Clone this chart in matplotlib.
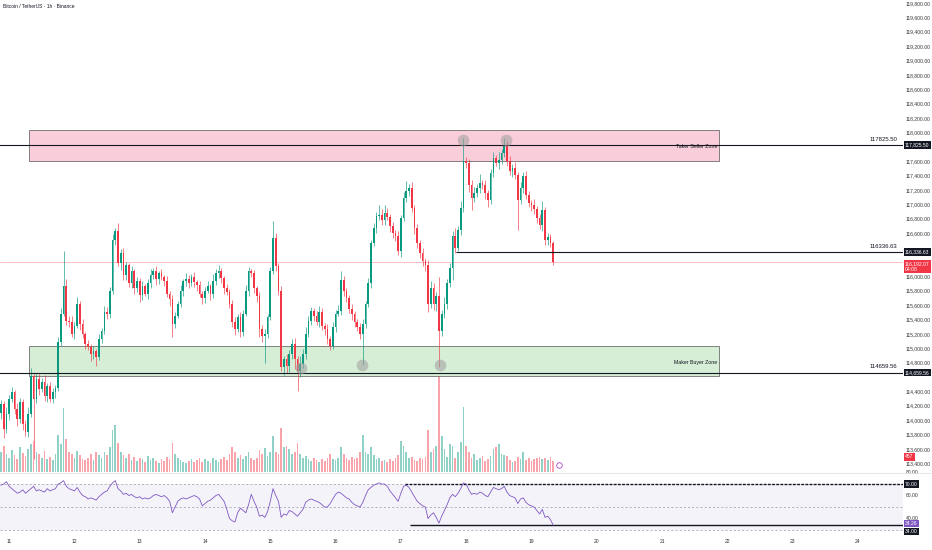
import numpy as np
import matplotlib
matplotlib.use("Agg")
import matplotlib.pyplot as plt
from matplotlib.patches import Rectangle
from matplotlib.lines import Line2D
from matplotlib.transforms import blended_transform_factory

plt.rcParams['font.family'] = ['Liberation Sans', 'DejaVu Sans']

# --- données (BTCUSDT 1h, du 10/07 21h au 19/07 08h) ---
closes = [
    114226, 113877, 114086, 114296, 114393, 114156, 114017, 114254, 113947, 113835, 114086, 114617,
    114296, 114575, 114435, 114533, 114338, 114477, 114296, 114393, 114449, 115091, 115481, 115858,
    115384, 115370, 115202, 115314, 115621, 115342, 115202, 115063, 115021, 114923, 114965, 114882,
    115133, 115244, 115509, 115481, 115802, 116500, 116625, 116179, 116318, 116012, 116151, 115900,
    116067, 115830, 115928, 115733, 115858, 115760, 115900, 116012, 116067, 115956, 116040, 115984,
    115928, 115760, 115677, 115342, 115454, 115621, 115802, 115928, 115956, 115900, 115984, 115914,
    115872, 115760, 115691, 115802, 115858, 115760, 115928, 116040, 116067, 115970, 115830, 115788,
    115621, 115370, 115272, 115440, 115230, 115481, 115802, 116067, 116040, 115830, 115719, 115272,
    115175, 115202, 115440, 116067, 116528, 116137, 115802, 114742, 114854, 114756, 114923, 115063,
    114854, 114686, 114784, 114923, 115202, 115384, 115523, 115454, 115370, 115509, 115314, 115272,
    115133, 115035, 115300, 115481, 115523, 115942, 115802, 115691, 115551, 115481, 115370, 115300,
    115202, 115342, 115621, 115900, 116458, 116667, 116835, 116849, 116779, 116876, 116821, 116695,
    116597, 116556, 116346, 116807, 117086, 117183, 117225, 116946, 116667, 116458, 116318, 116207,
    116151, 115621, 115830, 115621, 115719, 115244, 115481, 115621, 115900, 116109, 116556, 116388,
    116639, 116946, 117602, 117574, 117267, 117086, 117155, 117225, 117295, 117267, 117155, 117058,
    117434, 117644, 117574, 117616, 117713, 117825, 117602, 117462, 117504, 117407, 117058, 117225,
    117393, 117128, 117016, 116988, 116932, 116807, 116709, 116918, 116500, 116542, 116458, 116192,
]
first_open = 114100

wick_up = [
    60, 40, 90, 50, 70, 30, 80, 60, 40, 50, 90, 110,
    30, 70, 60, 50, 90, 40, 60, 50, 40, 60, 80, 490,
    100, 60, 80, 50, 90, 40, 60, 30, 50, 40, 70, 30,
    60, 40, 80, 60, 50, 90, 40, 120, 60, 80, 50, 40,
    70, 30, 60, 50, 80, 40, 60, 90, 50, 70, 40, 60,
    30, 80, 40, 60, 50, 30, 70, 40, 90, 60, 50, 80,
    40, 60, 30, 50, 70, 40, 110, 60, 90, 50, 40, 60,
    30, 50, 70, 40, 60, 50, 80, 60, 40, 50, 30, 60,
    50, 70, 40, 60, 240, 80, 50, 60, 40, 70, 50, 60,
    80, 40, 110, 60, 90, 70, 50, 40, 60, 80, 50, 40,
    60, 30, 70, 50, 80, 130, 60, 40, 50, 70, 40, 30,
    50, 60, 40, 70, 50, 80, 60, 140, 90, 120, 70, 50,
    60, 40, 70, 50, 80, 140, 60, 90, 40, 60, 50, 70,
    50, 80, 110, 70, 60, 270, 50, 90, 60, 80, 70, 120,
    60, 100, 320, 60, 50, 70, 90, 60, 120, 40, 70, 50,
    60, 80, 40, 110, 60, 100, 50, 70, 60, 80, 40, 90,
    50, 70, 60, 40, 80, 50, 60, 130, 40, 60, 50, 30,
]
wick_dn = [
    80, 120, 60, 90, 40, 70, 100, 50, 80, 60, 70, 40,
    840, 60, 80, 50, 70, 90, 40, 60, 80, 50, 60, 40,
    60, 80, 50, 70, 40, 90, 60, 80, 50, 100, 70, 130,
    50, 60, 40, 80, 60, 50, 70, 40, 90, 60, 70, 50,
    60, 80, 50, 90, 60, 40, 70, 60, 50, 80, 60, 40,
    70, 50, 90, 180, 60, 40, 50, 80, 60, 70, 40, 60,
    80, 50, 70, 60, 40, 90, 60, 50, 70, 60, 80, 50,
    60, 70, 90, 50, 80, 60, 40, 70, 50, 60, 80, 110,
    90, 380, 60, 50, 40, 70, 60, 60, 110, 100, 80, 70,
    150, 280, 90, 60, 70, 50, 60, 80, 50, 70, 60, 90,
    70, 60, 50, 80, 40, 60, 70, 50, 60, 90, 70, 60,
    80, 440, 60, 50, 70, 40, 60, 50, 70, 60, 40, 80,
    60, 70, 50, 80, 40, 60, 70, 50, 80, 60, 70, 60,
    80, 120, 60, 90, 110, 500, 70, 60, 80, 50, 160, 60,
    40, 60, 50, 70, 90, 160, 60, 50, 70, 60, 80, 90,
    50, 60, 40, 80, 60, 50, 70, 60, 80, 50, 420, 60,
    70, 50, 60, 80, 60, 70, 50, 80, 60, 70, 50, 40,
]
volumes = [
    420, 560, 380, 300, 460, 350, 280, 520, 400, 330, 480, 600,
    650, 420, 380, 300, 450, 280, 320, 260, 380, 780, 600, 1350,
    700, 420, 380, 300, 450, 350, 280, 260, 300, 380, 250, 420,
    360, 300, 420, 350, 520, 900, 1000, 620, 420, 350, 300, 380,
    260, 320, 240, 300, 280, 220, 340, 260, 300, 240, 200, 280,
    240, 320, 280, 620, 380, 300, 260, 220, 200, 240, 280, 220,
    260, 300, 220, 280, 240, 200, 300, 260, 220, 280, 320, 260,
    380, 520, 420, 300, 360, 280, 340, 420, 300, 260, 300, 460,
    380, 500, 340, 420, 760, 420, 380, 930, 520, 560, 480, 380,
    420, 620, 380, 300, 340, 280, 240, 300, 260, 220, 280, 240,
    300, 380, 280, 260, 300, 540, 380, 300, 260, 320, 280, 300,
    420, 780, 420, 380, 520, 360, 280, 300, 240, 260, 220, 280,
    240, 300, 360, 660, 560, 420, 300, 320, 260, 240, 300, 280,
    320, 890, 420, 480, 560, 2520, 760, 480, 320, 600, 560, 300,
    420, 640, 1380, 560, 420, 300, 380, 260, 300, 340, 240, 280,
    340, 480, 520, 600, 380, 360, 340, 260, 220, 240, 320, 280,
    420, 260, 300, 240, 280, 300, 320, 280, 300, 260, 320, 240,
]
rsi = [
    69, 70, 72, 68, 66, 64, 62, 63, 65, 62, 64, 66,
    68, 64, 65, 64, 63, 66, 64, 65, 66, 70, 71, 73,
    68, 66, 65, 64, 67, 63, 60, 59, 57, 58, 57, 56,
    59, 61, 63, 64, 68, 71, 73, 66, 64, 61, 62, 60,
    61, 59, 58, 59, 57, 58, 57, 58, 60, 61, 60, 59,
    60, 58, 55, 45, 50, 55, 57, 58, 57, 58, 59, 60,
    59, 57, 51, 53, 55, 56, 58, 60, 61, 58, 55, 48,
    40, 38, 37, 45, 49, 47, 45, 52, 61, 55, 50, 42,
    43, 41, 46, 55, 66, 60, 55, 41, 44, 43, 47, 46,
    44, 42, 45, 48, 54, 56, 57, 56, 55, 54, 52, 50,
    50, 53, 57, 61, 63, 62, 60, 58, 57, 54, 52, 51,
    50, 54, 60, 65, 67, 69, 70, 71, 70, 70, 68, 64,
    61, 58, 55, 62, 68, 69, 67, 63, 59, 55, 53, 51,
    50, 40, 43, 45, 41, 36, 42, 47, 52, 58, 61, 59,
    62, 66, 71, 70, 65, 61, 62, 61, 63, 62, 60, 59,
    63, 67, 66, 65, 66, 68, 63, 60, 59, 58, 53, 57,
    58, 54, 52, 51, 50, 47, 44, 48, 41, 42, 39, 34.26,
]
day_labels = ['11', '12', '13', '14', '15', '16', '17', '18', '19', '20', '21', '22', '23', '24']
# graduations visibles (celles cachées par les étiquettes de niveau sont retirées)
price_ticks = [p for p in range(113400, 119801, 200) if p not in (117800, 116400, 116200, 114600)]

seller_zone = (118032, 117601)
buyer_zone = (115029, 114612)
lvl_top = 117825.50
lvl_mid = 116336.63
lvl_bot = 114659.56
last_price = 116192.07
rsi_last = 34.26
rsi_line = 34.00

# --- mise en page en pixels ---
W, H = 932, 550
UP, DOWN = '#089981', '#f23645'
TXT = '#131722'


def rect(x0, y0, x1, y1):
    """Boîte en pixels (origine en haut à gauche) -> coordonnées figure."""
    return [x0 / W, 1 - y1 / H, (x1 - x0) / W, (y1 - y0) / H]


fig = plt.figure(figsize=(W / 100, H / 100), dpi=100)
ax = fig.add_axes(rect(0, 0, 903, 472))
ax_rsi = fig.add_axes(rect(0, 473, 903, 536))
ax_vol = ax.twinx()
ax_vol.set_zorder(0)
ax.set_zorder(1)
ax.patch.set_visible(False)

n = len(closes)
x = np.arange(n)
c = np.array(closes, float)
o = np.r_[first_open, c[:-1]]
is_up = c >= o
cols = np.where(is_up, UP, DOWN)
top = np.maximum(o, c)
bot = np.minimum(o, c)
xlim = (-0.37, 331.6)

# volume
ax_vol.bar(x, volumes, width=0.62, color=cols, alpha=0.45, lw=0)
ax_vol.set_ylim(0, 10000)
ax_vol.set_xlim(*xlim)
ax_vol.axis('off')

# zones
for (hi, lo), fc, name in [(seller_zone, '#f9cdd9', 'Taker Seller Zone'),
                           (buyer_zone, '#d6edd6', 'Maker Buyer Zone')]:
    ax.add_patch(Rectangle((10.3, lo), 264 - 10.3, hi - lo, fc=fc, ec='#6e6e6e', lw=0.6, zorder=0.5))
    ax.text(263.4, (hi + lo) / 2 - 15, name, ha='right', va='center', fontsize=3.8, color=TXT, zorder=7)

# bougies
ax.vlines(x, bot - np.array(wick_dn), top + np.array(wick_up), colors=cols, lw=0.45, zorder=3)
ax.bar(x, np.maximum(top - bot, 12), bottom=bot, width=0.62, color=cols, lw=0, zorder=4)

# niveaux
ax.axhline(lvl_top, color=TXT, lw=0.8, zorder=5)
ax.axhline(lvl_bot, color=TXT, lw=0.8, zorder=5)
ax.hlines(lvl_mid, 167.3, xlim[1], colors=TXT, lw=0.8, zorder=5)
ax.axhline(last_price, color=DOWN, lw=0.5, alpha=0.45, zorder=2)

tr_axes = blended_transform_factory(ax.transAxes, ax.transData)
for lvl in (lvl_top, lvl_mid, lvl_bot):
    ax.text(0.9934, lvl + 45, f'{lvl:.2f}', transform=tr_axes, ha='right', va='bottom',
            fontsize=4.3, color=TXT, zorder=7)

# points gris
ax.plot([169.9, 185.7, 132.7, 161.4, 110.3], [117893, 117893, 114765, 114765, 114724], 'o',
        ms=8.4, color='#9e9e9e', alpha=0.55, mew=0, zorder=6)

ax.set_xlim(*xlim)
ax.set_ylim(119840 - 472 * 13.9, 119840)
ax.set_xticks([])
ax.yaxis.tick_right()
ax.set_yticks(price_ticks)
ax.set_yticklabels([f'{p:,.2f}' for p in price_ticks])
ax.tick_params(axis='y', length=0, pad=2.2, labelsize=3.6, colors='#333333')
for s in ax.spines.values():
    s.set_visible(False)

# étiquettes de l'échelle de prix
tr_fig = blended_transform_factory(fig.transFigure, ax.transData)
box_kw = dict(transform=tr_fig, ha='left', va='center', fontsize=3.6, color='white',
              clip_on=False, zorder=10)
for lvl in (lvl_top, lvl_mid, lvl_bot):
    ax.text(905 / W, lvl, f'{lvl:,.2f}', bbox=dict(boxstyle='square,pad=0.25', fc=TXT, ec='none'), **box_kw)
ax.text(905 / W, last_price - 60, f'{last_price:,.2f}\n04:08', linespacing=1.15,
        bbox=dict(boxstyle='square,pad=0.25', fc=DOWN, ec='none'), **box_kw)
fig.text(905 / W, 1 - 457 / H, '457', ha='left', va='center', fontsize=3.6, color='white',
         bbox=dict(boxstyle='square,pad=0.25', fc=DOWN, ec='none'), zorder=10)

# petite icône au bout du volume
ax_vol.plot([205], [150], 'o', ms=4, mfc='white', mec='#ab47bc', mew=0.6, clip_on=False)

# RSI
ax_rsi.axhspan(30, 70, color='#7e57c2', alpha=0.07, lw=0)
for lv in (70, 50, 30):
    ax_rsi.axhline(lv, color='#9598a1', lw=0.5, ls=(0, (3, 3)))
ax_rsi.hlines(70, 148.5, xlim[1], colors=TXT, lw=1.0, linestyles=(0, (2, 1)))
ax_rsi.hlines(rsi_line, 150.4, xlim[1], colors=TXT, lw=1.0)
ax_rsi.plot(x, rsi, color='#7e57c2', lw=0.6)
ax_rsi.set_xlim(*xlim)
ax_rsi.set_ylim(24.8, 79.6)
ax_rsi.set_yticks([])
ax_rsi.set_xticks([3 + 24 * k for k in range(len(day_labels))])
ax_rsi.set_xticklabels(day_labels)
ax_rsi.tick_params(axis='x', length=0, pad=2.2, labelsize=3.6, colors='#333333')
for s in ax_rsi.spines.values():
    s.set_visible(False)

tr_rsi = blended_transform_factory(fig.transFigure, ax_rsi.transData)
for lv, lab in [(80, '80.00'), (60, '60.00'), (40, '40.00')]:
    ax_rsi.text(906 / W, lv, lab, transform=tr_rsi, ha='left', va='center', fontsize=3.6,
                color='#333333', clip_on=False)
rsi_box = dict(transform=tr_rsi, ha='left', va='center', fontsize=3.6, color='white', clip_on=False, zorder=10)
ax_rsi.text(905 / W, 70, '70.00', bbox=dict(boxstyle='square,pad=0.25', fc=TXT, ec='none'), **rsi_box)
ax_rsi.text(905 / W, rsi_last + 1.5, f'{rsi_last:.2f}',
            bbox=dict(boxstyle='square,pad=0.25', fc='#7e57c2', ec='none'), **rsi_box)
ax_rsi.text(905 / W, rsi_line - 5.5, f'{rsi_line:.2f}',
            bbox=dict(boxstyle='square,pad=0.25', fc=TXT, ec='none'), **rsi_box)

# séparateur et titre
fig.add_artist(Line2D([0, 1], [1 - 472.5 / H] * 2, color='#e0e3eb', lw=0.6))
fig.text(3 / W, 1 - 7 / H, 'Bitcoin / TetherUS · 1h · Binance', fontsize=3.5, va='center', color=TXT)

fig.savefig('out.png', dpi=100)
